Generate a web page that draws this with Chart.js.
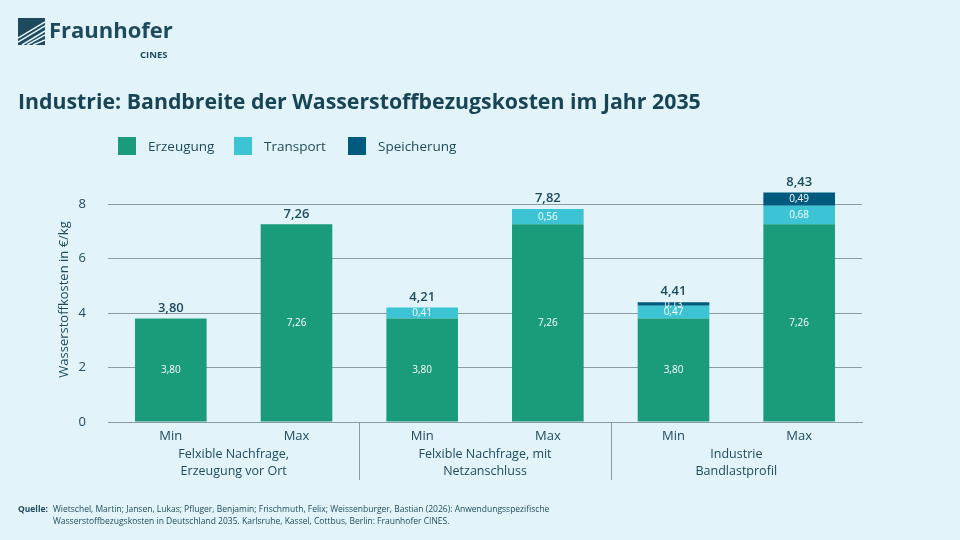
<!DOCTYPE html>
<html><head><meta charset="utf-8">
<script src="https://cdn.jsdelivr.net/npm/chart.js@4"></script>
<style>
body{margin:0;background:#e2f4f9;font-family:"Open Sans",sans-serif;color:#1d4a5e}
#wrap{position:relative;width:960px;height:540px;overflow:hidden}
canvas{position:absolute;left:0;top:0}
.abs{position:absolute}
#logo{left:18px;top:18px}
#title{left:18px;top:86px;font-size:21.3px;font-weight:700;color:#174457}
.leg{top:137px;font-size:13.5px;display:flex;align-items:center}
.leg span{display:inline-block;width:18px;height:18px;margin-right:12px}
#src{left:18px;top:503px;font-size:8.5px;line-height:12px}
</style></head><body>
<div id="wrap">
<canvas id="c" width="960" height="540"></canvas>
<div id="logo" class="abs">
<svg width="27" height="27" style="position:absolute;left:0;top:0"><rect width="27" height="27" fill="#1d4a5e"/>
<path d="M0 20 L27 4 M0 24 L27 8 M4 27 L27 13 M9 27 L27 17 M15 27 L27 22" stroke="#e2f4f9" stroke-width="1.5"/></svg>
<div class="abs" style="left:31px;top:-4px;font-size:22px;font-weight:700;white-space:nowrap">Fraunhofer</div>
<div class="abs" style="left:122px;top:30px;font-size:9.5px;font-weight:700">CINES</div>
</div>
<div id="title" class="abs">Industrie: Bandbreite der Wasserstoffbezugskosten im Jahr 2035</div>
<div class="abs leg" style="left:118px"><span style="background:#1a9c7a"></span>Erzeugung</div>
<div class="abs leg" style="left:234px"><span style="background:#3cc4d4"></span>Transport</div>
<div class="abs leg" style="left:348px"><span style="background:#005a7e"></span>Speicherung</div>
<div id="src" class="abs"><b style="position:absolute;left:0">Quelle:</b><div style="margin-left:35px">Wietschel, Martin; Jansen, Lukas; Pfluger, Benjamin; Frischmuth, Felix; Weissenburger, Bastian (2026): Anwendungsspezifische<br>Wasserstoffbezugskosten in Deutschland 2035. Karlsruhe, Kassel, Cottbus, Berlin: Fraunhofer CINES.</div></div>
</div>
<script>
const categories = ['Min','Max','Min','Max','Min','Max'];
const groups = ['Felxible Nachfrage,\nErzeugung vor Ort','Felxible Nachfrage, mit\nNetzanschluss','Industrie\nBandlastprofil'];
const erzeugung = [3.80,7.26,3.80,7.26,3.80,7.26];
const transport = [0,0,0.41,0.56,0.47,0.68];
const speicherung = [0,0,0,0,0.13,0.49];
const totals = [3.80,7.26,4.21,7.82,4.41,8.43];
const yTicks = [0,2,4,6,8];

const fmt = v => v.toFixed(2).replace('.', ',');
const ink = '#1d4a5e';

const labelPlugin = {
  id:'labels',
  afterDatasetsDraw(chart){
    const ctx = chart.ctx, x = chart.scales.x, y = chart.scales.y;
    ctx.save();
    ctx.textAlign='center'; ctx.textBaseline='middle';
    chart.data.datasets.forEach((ds,di)=>{
      const meta = chart.getDatasetMeta(di);
      meta.data.forEach((el,i)=>{
        const v = ds.data[i]; if(!v) return;
        ctx.fillStyle='#fff';
        ctx.font = (v<0.2?'9px':'10px')+' "Open Sans"';
        const cy = di===0 ? y.getPixelForValue(v/2) : (el.y+el.base)/2;
        ctx.fillText(fmt(v), el.x, cy);
      });
    });
    ctx.fillStyle=ink; ctx.font='600 13px "Open Sans"'; ctx.textBaseline='bottom';
    totals.forEach((t,i)=>{
      ctx.fillText(fmt(t), x.getPixelForValue(i), y.getPixelForValue(t)-4);
    });
    const a = chart.chartArea;
    ctx.strokeStyle='#8a9ba3'; ctx.lineWidth=1;
    [1.5,3.5].forEach(p=>{
      const px = Math.round((x.getPixelForValue(Math.floor(p))+x.getPixelForValue(Math.ceil(p)))/2)+0.5;
      ctx.beginPath(); ctx.moveTo(px,a.bottom); ctx.lineTo(px,a.bottom+58); ctx.stroke();
    });
    ctx.font='12.5px "Open Sans"'; ctx.textBaseline='top'; ctx.fillStyle=ink;
    groups.forEach((g,gi)=>{
      const cx = (x.getPixelForValue(gi*2)+x.getPixelForValue(gi*2+1))/2;
      g.split('\n').forEach((l,li)=>ctx.fillText(l,cx,a.bottom+26+li*17));
    });
    ctx.restore();
  }
};

new Chart(document.getElementById('c'),{
  type:'bar',
  data:{labels:categories,datasets:[
    {label:'Erzeugung',data:erzeugung,backgroundColor:'#1a9c7a'},
    {label:'Transport',data:transport,backgroundColor:'#3cc4d4'},
    {label:'Speicherung',data:speicherung,backgroundColor:'#005a7e'}
  ]},
  options:{
    responsive:false,animation:false,
    layout:{padding:{top:177,right:98,left:52,bottom:0}},
    datasets:{bar:{barPercentage:0.57,categoryPercentage:1}},
    plugins:{legend:{display:false},tooltip:{enabled:false}},
    scales:{
      x:{stacked:true,grid:{display:false},border:{color:'#8a9ba3'},
        ticks:{color:ink,font:{size:13,family:'Open Sans'},padding:-2},
        afterFit(s){s.height=118;}},
      y:{stacked:true,min:0,max:9,
        afterBuildTicks(s){s.ticks=yTicks.map(v=>({value:v}));},
        afterFit(s){s.width=56;},
        grid:{color:ctx=>ctx.tick.value===0?'rgba(0,0,0,0)':'#8a9ba3',drawTicks:false},
        border:{display:false},
        ticks:{color:ink,font:{size:13,family:'Open Sans'},padding:22},
        title:{display:true,text:'Wasserstoffkosten in €/kg',color:ink,font:{size:13,family:'Open Sans'},padding:{bottom:4}}}
    }
  },
  plugins:[labelPlugin]
});
</script>
</body></html>
